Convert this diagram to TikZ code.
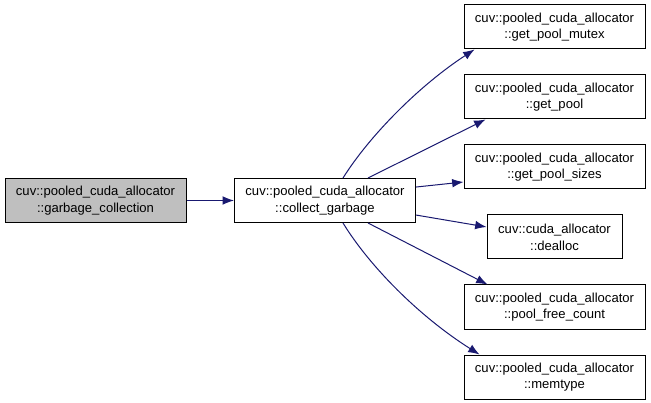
\documentclass[tikz,border=0pt]{standalone}
\usepackage{fontspec}
\setmainfont{Liberation Sans}
\usetikzlibrary{positioning,arrows.meta}
\definecolor{callblue}{RGB}{25,25,112}
\definecolor{callgray}{RGB}{191,191,191}

\begin{document}
\begin{tikzpicture}[x=0.75pt,y=-0.75pt,
            fn/.style={draw=black,line width=0.75pt,fill=white,align=center,
                       minimum width=135.75pt,minimum height=33pt,inner sep=0pt,
                       font=\fontsize{9.8}{12.5}\selectfont},
            call/.style={draw=callblue,line width=0.75pt,
                         -{Latex[length=8.5pt,width=6.5pt]}}]
        \useasboundingbox (0,0) rectangle (651,403);
        % caller and the function itself
        \node[fn,fill=callgray] (gc) at (95.5,200.5)
              {cuv::pooled\_cuda\_allocator\\::garbage\_collection};
        \node[fn] (cg) at (325,200.5)
              {cuv::pooled\_cuda\_allocator\\::collect\_garbage};
        % callees
        \node[fn] (mutex) at (554.5,27)
              {cuv::pooled\_cuda\_allocator\\::get\_pool\_mutex};
        \node[fn] (pool) at (554.5,97)
              {cuv::pooled\_cuda\_allocator\\::get\_pool};
        \node[fn] (sizes) at (554.5,167)
              {cuv::pooled\_cuda\_allocator\\::get\_pool\_sizes};
        \node[fn,minimum width=101.25pt] (dealloc) at (554.5,237)
              {cuv::cuda\_allocator\\::dealloc};
        \node[fn] (freecnt) at (554.5,307)
              {cuv::pooled\_cuda\_allocator\\::pool\_free\_count};
        \node[fn] (memtype) at (554.5,377)
              {cuv::pooled\_cuda\_allocator\\::memtype};
        % calls
        \draw[call] (gc) -- (cg);
        \draw[call] ([xshift=13.5pt]cg.north) .. controls (370,135) and (420,85)
              .. ([xshift=8.25pt]mutex.south west);
        \draw[call] ([xshift=32.25pt]cg.north) -- ([xshift=16.5pt]pool.south west);
        \draw[call] ([yshift=10.1pt]cg.east) -- ([yshift=-11.25pt]sizes.west);
        \draw[call] ([yshift=-10.9pt]cg.east) -- ([yshift=7.5pt]dealloc.west);
        \draw[call] ([xshift=32.25pt]cg.south) -- ([xshift=18pt]freecnt.north west);
        \draw[call] ([xshift=13.5pt]cg.south) .. controls (370,267) and (420,317)
              .. ([xshift=12pt]memtype.north west);
\end{tikzpicture}
\end{document}
